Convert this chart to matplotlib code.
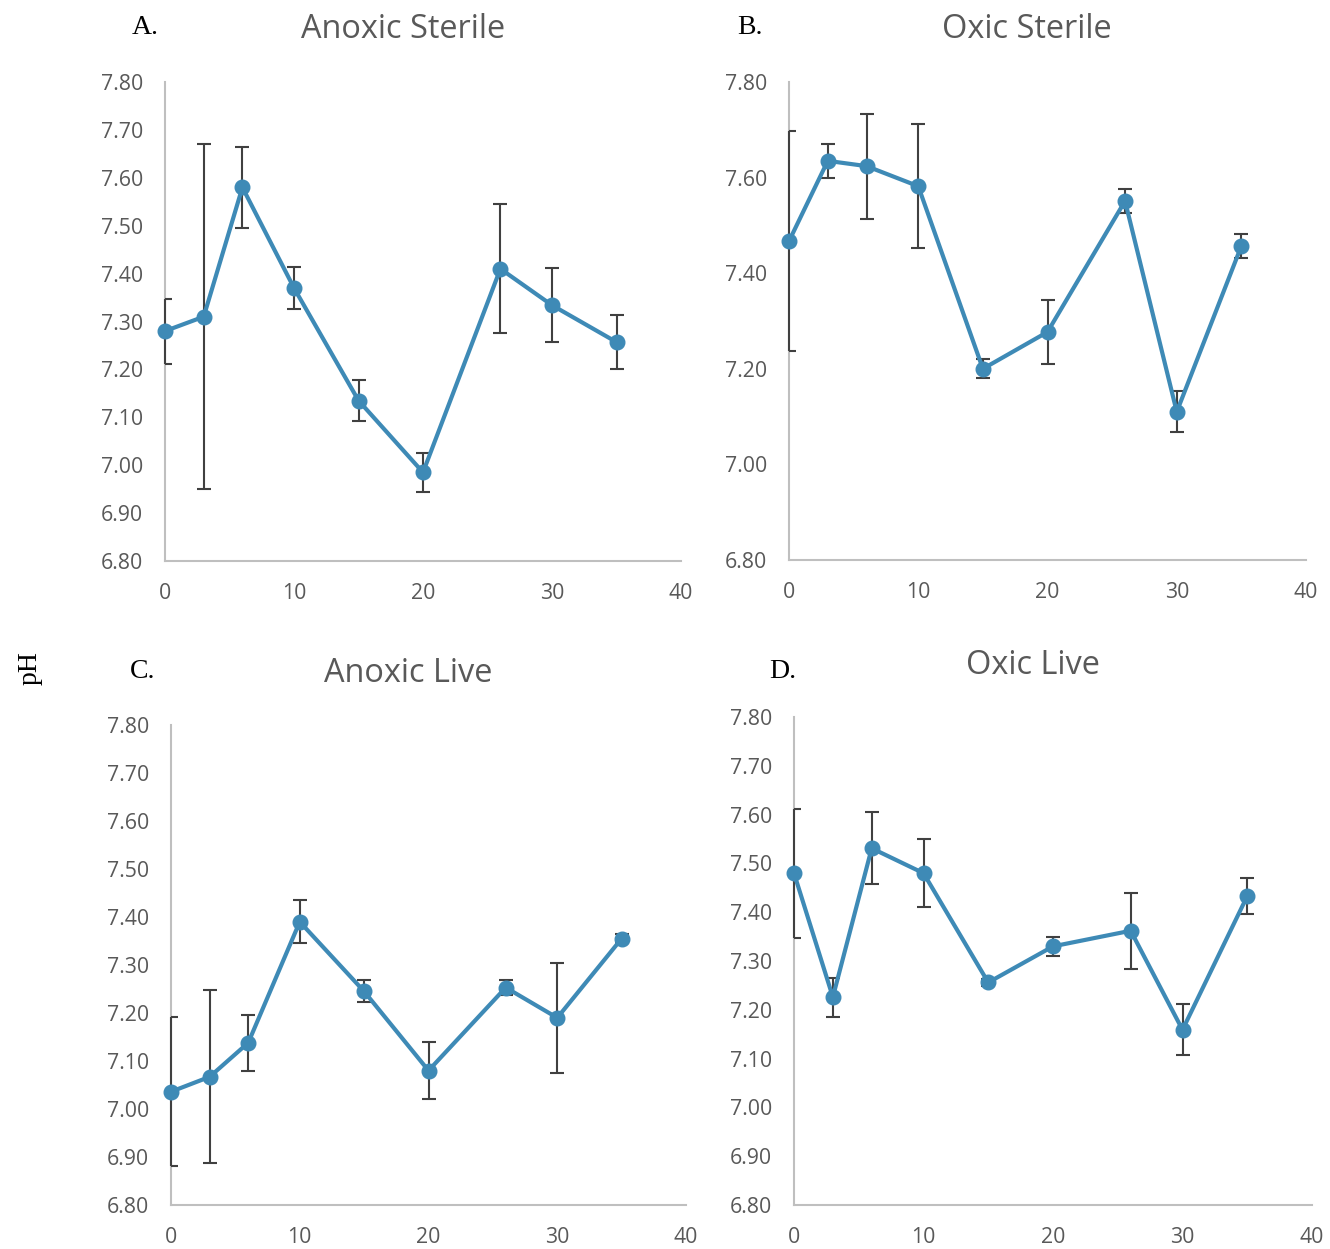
import numpy as np
import matplotlib
matplotlib.use("Agg")
import matplotlib.pyplot as plt

# sampling days
days = [0, 3, 6, 10, 15, 20, 26, 30, 35]

# pH means and error (+/-) per panel
anoxic_sterile = [7.28, 7.31, 7.58, 7.37, 7.135, 6.985, 7.41, 7.334, 7.257]
anoxic_sterile_err = [0.068, 0.36, 0.085, 0.043, 0.042, 0.04, 0.135, 0.077, 0.057]

oxic_sterile = [7.467, 7.635, 7.624, 7.582, 7.20, 7.277, 7.551, 7.11, 7.457]
oxic_sterile_err = [0.23, 0.035, 0.11, 0.13, 0.02, 0.066, 0.025, 0.043, 0.025]

anoxic_live = [7.036, 7.067, 7.138, 7.39, 7.245, 7.08, 7.253, 7.19, 7.355]
anoxic_live_err = [0.155, 0.18, 0.058, 0.045, 0.023, 0.059, 0.015, 0.115, 0.01]

oxic_live = [7.48, 7.226, 7.531, 7.48, 7.256, 7.33, 7.362, 7.159, 7.433]
oxic_live_err = [0.132, 0.04, 0.074, 0.07, 0.008, 0.02, 0.078, 0.052, 0.037]

titles = ["Anoxic Sterile", "Oxic Sterile", "Anoxic Live", "Oxic Live"]
letters = ["A.", "B.", "C.", "D."]

W, H = 1330, 1249
fig = plt.figure(figsize=(W / 100, H / 100), dpi=100)

def px(x0, y0, x1, y1):
    # pixel box -> figure fraction [left, bottom, width, height]
    return [x0 / W, 1 - y1 / H, (x1 - x0) / W, (y1 - y0) / H]

boxes = [px(165, 82, 681, 561), px(789, 82, 1306, 560),
         px(171, 725, 686, 1205), px(794, 717, 1312, 1205)]
ystep = [0.1, 0.2, 0.1, 0.1]
series = [(anoxic_sterile, anoxic_sterile_err), (oxic_sterile, oxic_sterile_err),
          (anoxic_live, anoxic_live_err), (oxic_live, oxic_live_err)]

title_pos = [(403, 29), (1027, 29), (408, 673), (1033, 665)]
letter_pos = [(145, 28), (750, 28), (143, 672), (783, 671)]

line_col = "#3E8AB6"
grey = "#595959"
sans = "Open Sans"

for i in range(4):
    ax = fig.add_axes(boxes[i])
    y, e = series[i]
    eb = ax.errorbar(days, y, yerr=e, fmt="none", ecolor="#404040",
                     elinewidth=1.5, capsize=5, capthick=1.5, zorder=3)
    for coll in eb[2]:
        coll.set_clip_on(False)
    ax.plot(days, y, color=line_col, lw=3, marker="o", ms=10.5,
            zorder=4, clip_on=False)
    ax.set_xlim(0, 40)
    ax.set_ylim(6.8, 7.8)
    ax.set_xticks([0, 10, 20, 30, 40])
    ax.set_yticks(np.arange(6.8, 7.8001, ystep[i]))
    ax.set_yticklabels(["%.2f" % v for v in np.arange(6.8, 7.8001, ystep[i])])
    for s in ["top", "right"]:
        ax.spines[s].set_visible(False)
    for s in ["left", "bottom"]:
        ax.spines[s].set_color("#BFBFBF")
        ax.spines[s].set_linewidth(1.5)
    ax.tick_params(length=0, labelsize=15.3, labelcolor=grey)
    ax.tick_params(axis="y", pad=16)
    ax.tick_params(axis="x", pad=16)
    for lab in ax.get_xticklabels() + ax.get_yticklabels():
        lab.set_fontfamily(sans)

    tx, ty = title_pos[i]
    fig.text(tx / W, 1 - ty / H, titles[i], ha="center", va="center",
             fontsize=23.4, color=grey, family=sans)
    lx, ly = letter_pos[i]
    fig.text(lx / W, 1 - ly / H, letters[i], ha="center", va="center",
             fontsize=20, color="black", family="Liberation Serif")

fig.text(30 / W, 1 - 668 / H, "pH", rotation=90, ha="center", va="center",
         fontsize=20, family="Liberation Serif")

fig.savefig("out.png", dpi=100)
